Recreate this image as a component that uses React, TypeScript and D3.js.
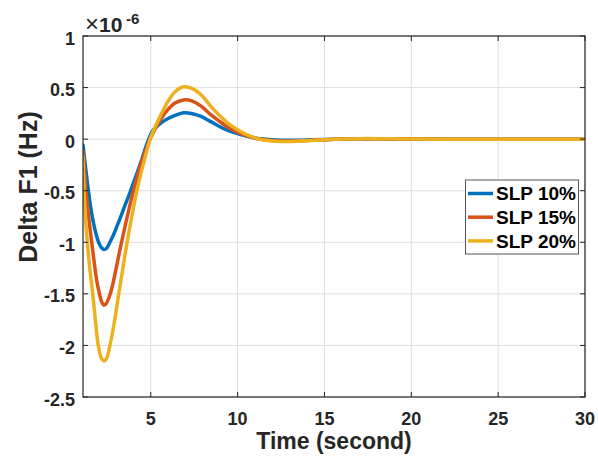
import React from "react";
import * as d3 from "d3";

// ---- data ----
const tBlue = [1.1, 1.25, 1.41, 1.55, 1.7, 1.85, 2.0, 2.15, 2.31, 2.45, 2.65, 2.85, 3.04, 3.23, 3.5, 3.8, 4.1, 4.4, 4.65, 4.86, 5.1, 5.4, 5.7, 6.0, 6.4, 6.9, 7.4, 7.9, 8.4, 8.9, 9.4, 9.95, 10.5, 11, 11.5, 12, 12.5, 13, 14, 15, 16, 17, 18, 19, 20, 22, 25, 30];
const vBlue = [-0.057, -0.28, -0.5, -0.67, -0.81, -0.92, -1.0, -1.05, -1.07, -1.06, -1.0, -0.93, -0.85, -0.77, -0.65, -0.52, -0.38, -0.24, -0.11, -0.01, 0.08, 0.13, 0.17, 0.2, 0.23, 0.256, 0.247, 0.22, 0.175, 0.128, 0.088, 0.056, 0.03, 0.012, 0.002, -0.006, -0.01, -0.011, -0.008, -0.003, 0.001, 0.003, 0.003, 0.002, 0.001, 0, 0, 0];

const tOrange = [1.1, 1.18, 1.27, 1.43, 1.6, 1.75, 1.89, 2.05, 2.18, 2.31, 2.45, 2.65, 2.85, 3.0, 3.23, 3.58, 3.96, 4.15, 4.4, 4.7, 4.96, 5.25, 5.54, 5.9, 6.4, 6.9, 7.4, 7.9, 8.4, 8.9, 9.4, 9.95, 10.5, 11, 11.5, 12, 12.5, 13, 14, 15, 16, 17, 18, 19, 20, 22, 25, 30];
const vOrange = [-0.12, -0.3, -0.5, -0.76, -1.0, -1.2, -1.37, -1.5, -1.58, -1.61, -1.59, -1.51, -1.38, -1.26, -1.07, -0.8, -0.53, -0.41, -0.26, -0.11, 0, 0.1, 0.185, 0.27, 0.35, 0.38, 0.368, 0.32, 0.245, 0.18, 0.12, 0.07, 0.035, 0.01, -0.004, -0.013, -0.017, -0.017, -0.012, -0.005, 0, 0.004, 0.004, 0.003, 0.001, 0, 0, 0];

const tYellow = [1.1, 1.16, 1.25, 1.35, 1.5, 1.66, 1.82, 1.98, 2.15, 2.31, 2.47, 2.65, 2.9, 3.13, 3.38, 3.62, 3.9, 4.19, 4.38, 4.7, 4.96, 5.2, 5.44, 5.9, 6.4, 6.9, 7.4, 7.9, 8.4, 8.9, 9.4, 9.95, 10.5, 11, 11.5, 12, 12.5, 13, 14, 15, 16, 17, 18, 19, 20, 22, 25, 30];
const vYellow = [-0.17, -0.5, -0.78, -1.0, -1.27, -1.5, -1.77, -2.0, -2.12, -2.15, -2.12, -2.0, -1.78, -1.53, -1.27, -1.02, -0.76, -0.51, -0.37, -0.16, 0, 0.1, 0.185, 0.34, 0.46, 0.508, 0.49, 0.43, 0.33, 0.24, 0.16, 0.095, 0.045, 0.012, -0.008, -0.018, -0.023, -0.022, -0.015, -0.006, 0.001, 0.005, 0.005, 0.003, 0.001, 0, 0, 0];

const seriesNames = ["SLP 10%", "SLP 15%", "SLP 20%"];
const seriesColors = ["#0072BD", "#D95319", "#EDB120"];
const xTicks = [5, 10, 15, 20, 25, 30];
const yTicks = [1, 0.5, 0, -0.5, -1, -1.5, -2, -2.5];
const xDomain = [1.1, 30];
const yDomain = [-2.5, 1];

const W = 598;
const H = 461;
const M = { left: 83, right: 585, top: 36, bottom: 397 };
const FONT = "'Liberation Sans', Arial, Helvetica, sans-serif";
const AX = "#262626";

export default function App() {
  const x = d3.scaleLinear().domain(xDomain).range([M.left, M.right]);
  const y = d3.scaleLinear().domain(yDomain).range([M.bottom, M.top]);
  const series = [
    { t: tBlue, v: vBlue },
    { t: tOrange, v: vOrange },
    { t: tYellow, v: vYellow },
  ];
  const line = d3
    .line<[number, number]>()
    .x((d) => x(d[0]))
    .y((d) => y(d[1]))
    .curve(d3.curveCatmullRom.alpha(0.5));
  const tl = 5;

  return (
    <svg
      width={W}
      height={H}
      style={{ position: "absolute", left: 0, top: 0, background: "#fff" }}
      fontFamily={FONT}
    >
      <rect x={0} y={0} width={W} height={H} fill="#fff" />
      {/* grid */}
      {xTicks.map((t) => (
        <line key={"gx" + t} x1={x(t)} x2={x(t)} y1={M.top} y2={M.bottom} stroke="#dfdfdf" strokeWidth={1} />
      ))}
      {yTicks.map((t) => (
        <line key={"gy" + t} x1={M.left} x2={M.right} y1={y(t)} y2={y(t)} stroke="#dfdfdf" strokeWidth={1} />
      ))}
      <defs>
        <clipPath id="clip">
          <rect x={M.left} y={M.top} width={M.right - M.left} height={M.bottom - M.top} />
        </clipPath>
      </defs>
      <g clipPath="url(#clip)">
        {series.map((s, i) => (
          <path
            key={i}
            d={line(s.t.map((t, j) => [t, s.v[j]] as [number, number])) || ""}
            fill="none"
            stroke={seriesColors[i]}
            strokeWidth={3.5}
            strokeLinejoin="round"
            strokeLinecap="round"
          />
        ))}
      </g>
      {/* axes box */}
      <rect x={M.left} y={M.top} width={M.right - M.left} height={M.bottom - M.top} fill="none" stroke={AX} strokeWidth={1.2} />
      {xTicks.map((t) => (
        <g key={"tx" + t}>
          <line x1={x(t)} x2={x(t)} y1={M.bottom} y2={M.bottom - tl} stroke={AX} />
          <line x1={x(t)} x2={x(t)} y1={M.top} y2={M.top + tl} stroke={AX} />
          <text x={x(t)} y={425} textAnchor="middle" fontSize={18} fontWeight="bold" fill={AX}>
            {t}
          </text>
        </g>
      ))}
      {yTicks.map((t) => (
        <g key={"ty" + t}>
          <line x1={M.left} x2={M.left + tl} y1={y(t)} y2={y(t)} stroke={AX} />
          <line x1={M.right} x2={M.right - tl} y1={y(t)} y2={y(t)} stroke={AX} />
          <text x={75} y={y(t) + 8.5} textAnchor="end" fontSize={18} fontWeight="bold" fill={AX}>
            {t}
          </text>
        </g>
      ))}
      {/* exponent */}
      <text x={85} y={32} fontSize={21} fontWeight="bold" fill={AX}>
        <tspan fontWeight="normal" fontSize={24}>×</tspan>10
      </text>
      <text x={126} y={23.5} fontSize={15} fontWeight="bold" fill={AX}>
        -6
      </text>
      {/* axis labels */}
      <text x={(M.left + M.right) / 2} y={449} textAnchor="middle" fontSize={23} fontWeight="bold" fill={AX}>
        Time (second)
      </text>
      <text
        transform={`translate(37, 187) rotate(-90)`}
        textAnchor="middle"
        fontSize={25}
        fontWeight="bold"
        fill={AX}
      >
        Delta F1 (Hz)
      </text>
      {/* legend */}
      <g>
        <rect x={465.5} y={180} width={113} height={74} fill="#fff" stroke="#555" strokeWidth={1} />
        {seriesNames.map((n, i) => (
          <g key={n}>
            <line x1={468} x2={493} y1={193.5 + i * 23.7} y2={193.5 + i * 23.7} stroke={seriesColors[i]} strokeWidth={3.5} />
            <text x={496} y={193.5 + i * 23.7 + 6.8} fontSize={19} fontWeight="bold" fill="#000">
              {n}
            </text>
          </g>
        ))}
      </g>
    </svg>
  );
}
